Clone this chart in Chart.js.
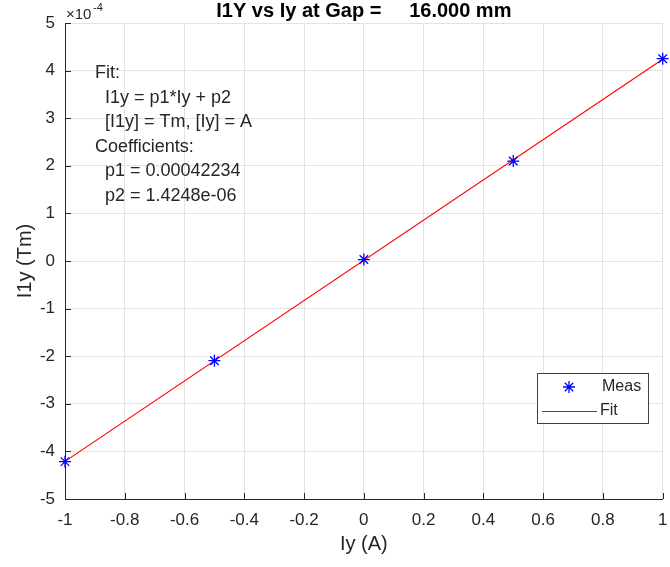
<!DOCTYPE html>
<html>
<head>
<meta charset="utf-8">
<script src="https://cdn.jsdelivr.net/npm/chart.js@4.4.1/dist/chart.umd.min.js"></script>
<style>
  body { margin: 0; background: #fff; }
  #wrap { width: 670px; height: 567px; }
</style>
</head>
<body>
<div id="wrap"><canvas id="fitChart" width="670" height="567"></canvas></div>
<script>
// measured points
const iyValues = [-1, -0.5, 0, 0.5, 1];
const i1yValues = [-4.215e-4, -2.095e-4, 0.03e-4, 2.10e-4, 4.25e-4];

// fit line end points
const fitIy = [-1, 1];
const fitI1y = [-4.209e-4, 4.238e-4];

const xTicks = [-1, -0.8, -0.6, -0.4, -0.2, 0, 0.2, 0.4, 0.6, 0.8, 1];
const yTicks = [-5, -4, -3, -2, -1, 0, 1, 2, 3, 4, 5];

const chartTitle = 'I1Y vs Iy at Gap =     16.000 mm';
const xTitle = 'Iy (A)';
const yTitle = 'I1y (Tm)';
const fitText = [
    'Fit:',
    '  I1y = p1*Iy + p2',
    '  [I1y] = Tm, [Iy] = A',
    'Coefficients:',
    '  p1 = 0.00042234',
    '  p2 = 1.4248e-06'
];

const FONT = "'Liberation Sans', Arial, Helvetica, sans-serif";
const AXIS = '#262626';
const MEAS_COLOR = '#0000ff';
const FIT_COLOR = '#ff0000';

const decorations = {
    id: 'decorations',
    afterDraw(chart) {
        const ctx = chart.ctx;
        const xs = chart.scales.x, ys = chart.scales.y;
        const area = chart.chartArea;
        ctx.save();

        // inward tick marks
        ctx.strokeStyle = AXIS;
        ctx.lineWidth = 1;
        ctx.beginPath();
        xTicks.forEach(v => {
            const px = Math.round(xs.getPixelForValue(v)) + 0.5;
            ctx.moveTo(px, area.bottom);
            ctx.lineTo(px, area.bottom - 6);
        });
        yTicks.forEach(v => {
            const py = Math.round(ys.getPixelForValue(v * 1e-4)) + 0.5;
            ctx.moveTo(area.left, py);
            ctx.lineTo(area.left + 6, py);
        });
        ctx.stroke();

        // title
        ctx.fillStyle = '#000';
        ctx.font = 'bold 20px ' + FONT;
        ctx.textAlign = 'center';
        ctx.textBaseline = 'alphabetic';
        ctx.fillText(chartTitle, (area.left + area.right) / 2, 17);

        // axis titles
        ctx.fillStyle = AXIS;
        ctx.font = '20px ' + FONT;
        ctx.textBaseline = 'middle';
        ctx.fillText(xTitle, (area.left + area.right) / 2, 544);
        ctx.save();
        ctx.translate(25, (area.top + area.bottom) / 2);
        ctx.rotate(-Math.PI / 2);
        ctx.fillText(yTitle, 0, 0);
        ctx.restore();

        // exponent
        ctx.textAlign = 'left';
        ctx.textBaseline = 'alphabetic';
        ctx.font = '15px ' + FONT;
        ctx.fillText('\u00d710', 66, 19);
        ctx.font = '11px ' + FONT;
        ctx.fillText('-4', 93, 11);

        // fit text
        ctx.font = '18px ' + FONT;
        ctx.textBaseline = 'middle';
        fitText.forEach((line, i) => {
            ctx.fillText(line, 95, 73 + i * 24.6);
        });

        // legend
        const meas = chart.data.datasets[0], fit = chart.data.datasets[1];
        ctx.fillStyle = '#fff';
        ctx.fillRect(537.5, 373.5, 111, 50);
        ctx.strokeStyle = '#404040';
        ctx.lineWidth = 1;
        ctx.strokeRect(537.5, 373.5, 111, 50);

        const cx = 569, cy = 387, r = 6;
        ctx.strokeStyle = MEAS_COLOR;
        ctx.lineWidth = 1.3;
        ctx.beginPath();
        ctx.moveTo(cx - r, cy); ctx.lineTo(cx + r, cy);
        ctx.moveTo(cx, cy - r); ctx.lineTo(cx, cy + r);
        const d = r * Math.SQRT1_2;
        ctx.moveTo(cx - d, cy - d); ctx.lineTo(cx + d, cy + d);
        ctx.moveTo(cx - d, cy + d); ctx.lineTo(cx + d, cy - d);
        ctx.stroke();

        ctx.strokeStyle = FIT_COLOR;
        ctx.lineWidth = 1.2;
        ctx.beginPath();
        ctx.moveTo(542, 411.5);
        ctx.lineTo(597, 411.5);
        ctx.stroke();

        ctx.fillStyle = AXIS;
        ctx.font = '16px ' + FONT;
        ctx.fillText(meas.label, 602, 387);
        ctx.fillText(fit.label, 600, 411);

        ctx.restore();
    }
};

new Chart(document.getElementById('fitChart'), {
    type: 'scatter',
    data: {
        datasets: [
            {
                label: 'Meas',
                data: iyValues.map((x, i) => ({ x: x, y: i1yValues[i] })),
                pointStyle: 'star',
                pointRadius: 6,
                pointBorderColor: MEAS_COLOR,
                pointBackgroundColor: MEAS_COLOR,
                pointBorderWidth: 1.3,
                showLine: false,
                clip: false
            },
            {
                label: 'Fit',
                data: fitIy.map((x, i) => ({ x: x, y: fitI1y[i] })),
                showLine: true,
                borderColor: FIT_COLOR,
                borderWidth: 1.2,
                pointRadius: 0,
                fill: false
            }
        ]
    },
    options: {
        responsive: false,
        animation: false,
        devicePixelRatio: 1,
        layout: { padding: { top: 23, right: 2, left: 0, bottom: 0 } },
        plugins: {
            legend: { display: false },
            tooltip: { enabled: false }
        },
        scales: {
            x: {
                type: 'linear',
                min: -1,
                max: 1,
                afterBuildTicks: s => { s.ticks = xTicks.map(v => ({ value: v })); },
                afterFit: s => { s.height = 68; s.paddingLeft = 0; s.paddingRight = 0; },
                ticks: {
                    callback: v => parseFloat(v.toFixed(1)).toString(),
                    font: { family: FONT, size: 17 },
                    color: AXIS,
                    padding: 11,
                    maxRotation: 0
                },
                grid: { color: '#e3e3e3', drawTicks: false },
                border: { color: AXIS, width: 1 }
            },
            y: {
                type: 'linear',
                min: -5e-4,
                max: 5e-4,
                afterBuildTicks: s => { s.ticks = yTicks.map(v => ({ value: v * 1e-4 })); },
                afterFit: s => { s.width = 65; s.paddingTop = 0; s.paddingBottom = 0; },
                ticks: {
                    callback: v => Math.round(v * 1e4).toString(),
                    font: { family: FONT, size: 17 },
                    color: AXIS,
                    padding: 10
                },
                grid: { color: '#e3e3e3', drawTicks: false },
                border: { color: AXIS, width: 1 }
            }
        }
    },
    plugins: [decorations]
});
</script>
</body>
</html>
